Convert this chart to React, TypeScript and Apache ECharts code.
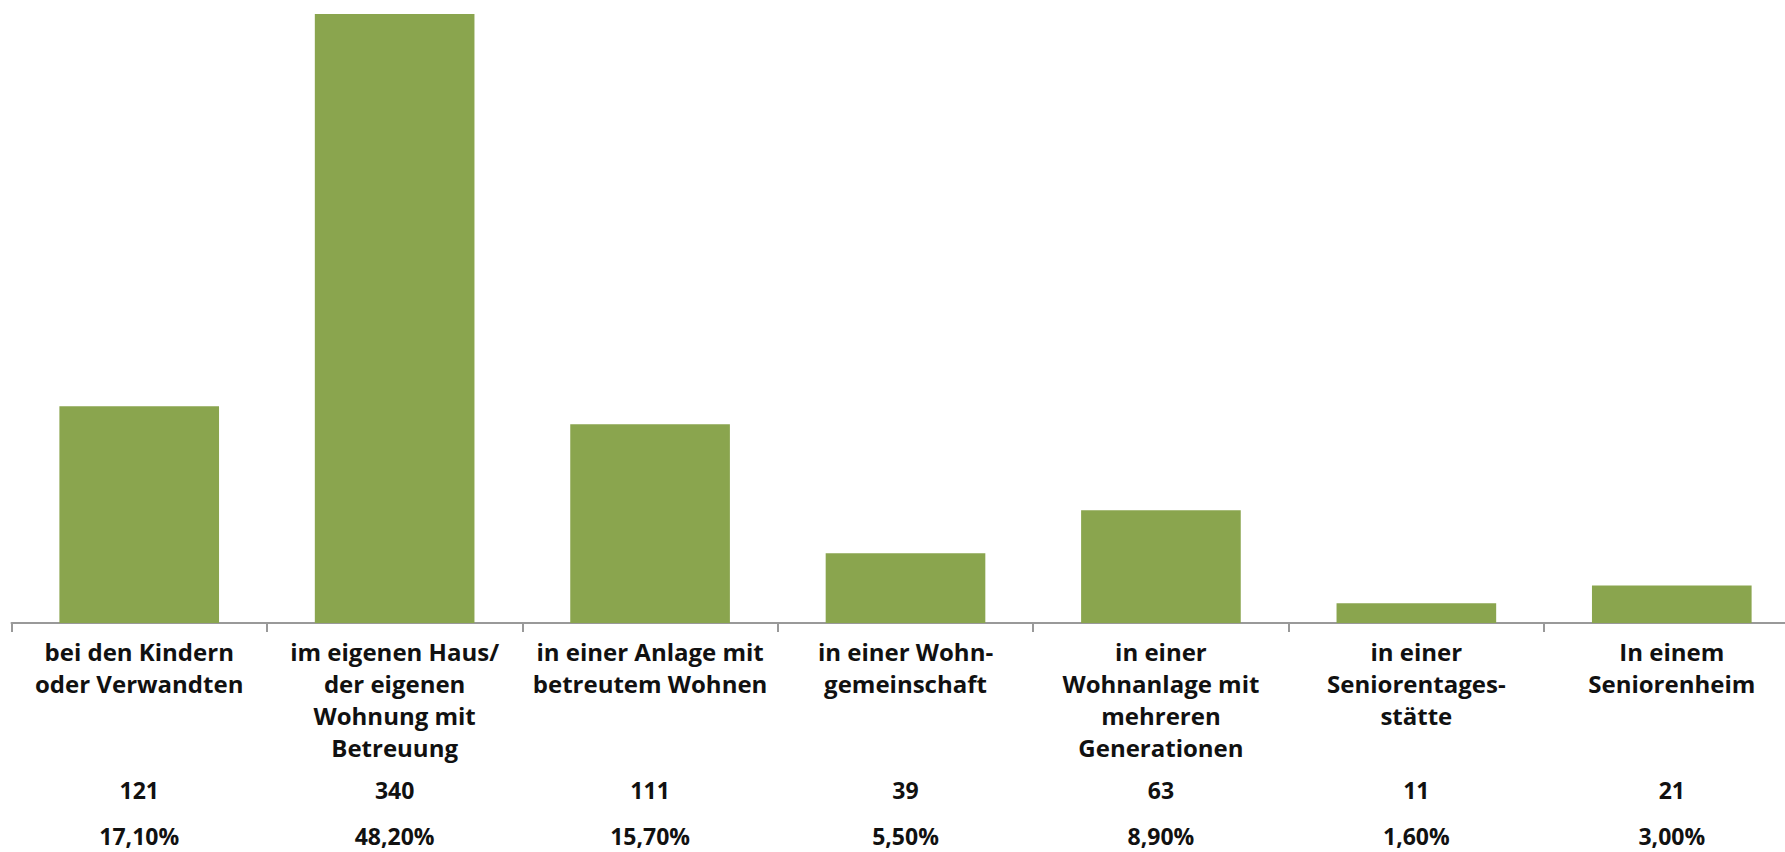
import React, { useEffect, useRef } from "react";
import * as echarts from "echarts";

const categories = [
  "bei den Kindern\noder Verwandten",
  "im eigenen Haus/\nder eigenen\nWohnung mit\nBetreuung",
  "in einer Anlage mit\nbetreutem Wohnen",
  "in einer Wohn-\ngemeinschaft",
  "in einer\nWohnanlage mit\nmehreren\nGenerationen",
  "in einer\nSeniorentages-\nstätte",
  "In einem\nSeniorenheim",
];
const counts = [121, 340, 111, 39, 63, 11, 21];
const percents = ["17,10%", "48,20%", "15,70%", "5,50%", "8,90%", "1,60%", "3,00%"];

const FONT = "'Open Sans', sans-serif";

export default function App() {
  const ref = useRef<HTMLDivElement>(null);
  useEffect(() => {
    if (!ref.current) return;
    const chart = echarts.init(ref.current, undefined, { renderer: "svg" });
    const labelBase = {
      fontFamily: FONT,
      fontWeight: "bold" as const,
      color: "#111",
      interval: 0,
      lineHeight: 32,
      verticalAlign: "top" as const,
    };
    chart.setOption({
      animation: false,
      backgroundColor: "#fff",
      grid: { left: 11.5, top: 5, width: 1788, bottom: 226.5, containLabel: false },
      xAxis: [
        {
          type: "category",
          data: categories,
          axisLine: { show: true, lineStyle: { color: "#999", width: 2 } },
          axisTick: { show: true, length: 9, lineStyle: { color: "#999", width: 2 } },
          axisLabel: { ...labelBase, fontSize: 24, margin: 12 },
        },
        {
          type: "category",
          data: counts.map(String),
          position: "bottom",
          offset: 151,
          axisLine: { show: false },
          axisTick: { show: false },
          axisLabel: { ...labelBase, fontSize: 23, margin: 0 },
        },
        {
          type: "category",
          data: percents,
          position: "bottom",
          offset: 197,
          axisLine: { show: false },
          axisTick: { show: false },
          axisLabel: { ...labelBase, fontSize: 23, margin: 0 },
        },
      ],
      yAxis: {
        type: "value",
        min: 0,
        max: 345,
        show: false,
        splitLine: { show: false },
      },
      series: [
        {
          type: "bar",
          data: counts,
          xAxisIndex: 0,
          barWidth: "62.5%",
          itemStyle: { color: "#8aa54e" },
        },
      ],
    });
    return () => chart.dispose();
  }, []);
  return (
    <div
      style={{
        position: "fixed",
        left: 0,
        top: 0,
        width: 1785,
        height: 852,
        overflow: "hidden",
        background: "#fff",
      }}
    >
      <div ref={ref} style={{ width: 1800, height: 852 }} />
    </div>
  );
}
